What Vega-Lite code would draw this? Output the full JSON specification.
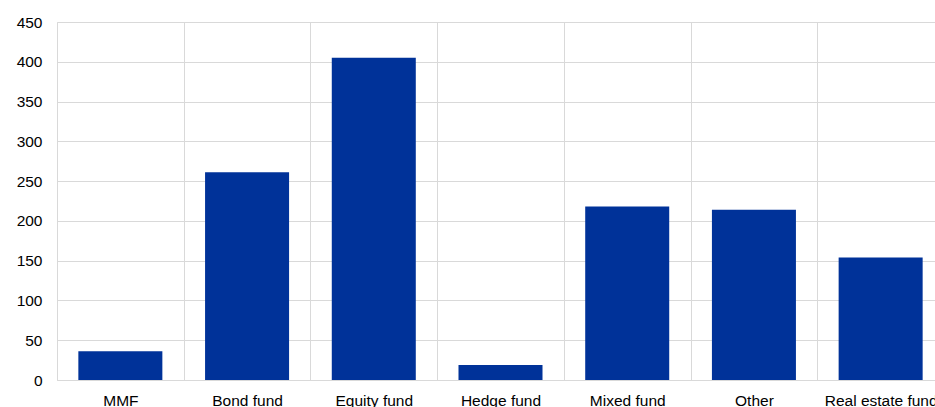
{
  "$schema": "https://vega.github.io/schema/vega-lite/v6.json",
  "autosize": {"type": "none"},
  "padding": {"left": 57, "top": 22, "right": 0, "bottom": 27},
  "width": 887,
  "height": 358,
  "background": "white",
  "data": {"values": [
    {"category": "MMF", "value": 36},
    {"category": "Bond fund", "value": 261},
    {"category": "Equity fund", "value": 405},
    {"category": "Hedge fund", "value": 19},
    {"category": "Mixed fund", "value": 218},
    {"category": "Other", "value": 214},
    {"category": "Real estate fund", "value": 154}
  ]},
  "mark": {"type": "bar", "color": "#003299", "width": {"band": 0.663}},
  "encoding": {
    "x": {
      "field": "category", "type": "nominal", "sort": null,
      "scale": {"paddingInner": 0, "paddingOuter": 0},
      "axis": {"title": null, "labelAngle": 0, "labelFont": "Liberation Sans", "labelFontSize": 15.5, "labelColor": "#000000",
               "labelPadding": 13, "ticks": false, "domainColor": "#d9d9d9", "grid": true, "gridColor": "#d9d9d9", "tickBand": "extent",
               "labelOverlap": false, "labelBound": false}
    },
    "y": {
      "field": "value", "type": "quantitative",
      "scale": {"domain": [0, 450]},
      "axis": {"title": null, "values": [0,50,100,150,200,250,300,350,400,450], "labelFont": "Liberation Sans", "labelFontSize": 15.5,
               "labelColor": "#000000", "labelPadding": 15, "ticks": false, "domainColor": "#d9d9d9", "gridColor": "#d9d9d9"}
    }
  },
  "config": {"view": {"stroke": null}}
}
